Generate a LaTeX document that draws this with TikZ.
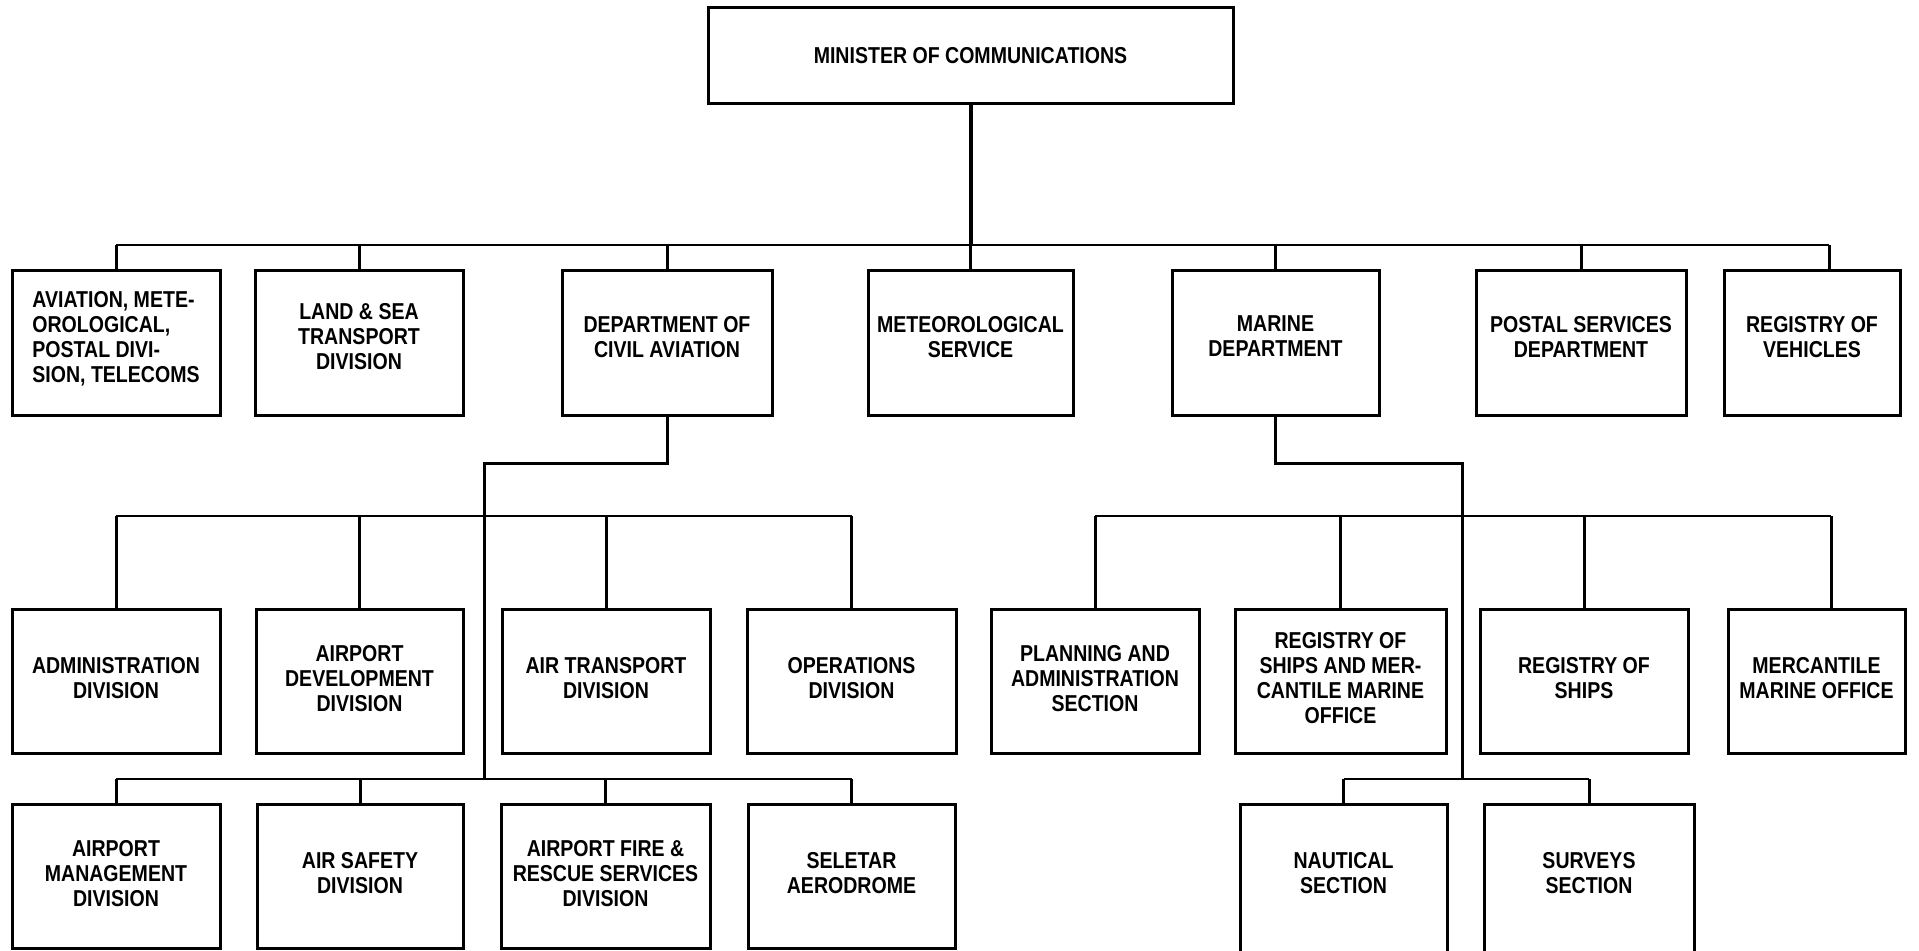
\documentclass[tikz,border=0pt]{standalone}
\usepackage{fontspec}
\setmainfont{Liberation Sans}[FakeStretch=0.85]
\newcommand\orgbox[7][]{%
  \node[box,#1,minimum width={(#5-#3)*0.5pt},minimum height={(#6-#4)*0.5pt}] (#2) at ({(#3+#5)/2},{(#4+#6)/2}) {#7};}
\begin{document}
\begin{tikzpicture}[x=0.5pt,y=-0.5pt,
  box/.style={draw, line width=1.5pt, inner sep=0pt, align=center,
    font=\fontsize{11.5}{12.5}\selectfont\bfseries, text depth=3pt},
  rowone/.style={text depth=6pt},
  link/.style={line width=1.5pt},
  busl/.style={line width=1pt}]
\fill[white] (0,0) rectangle (1919,950);
\clip (0,0) rectangle (1919,950);
% top
\orgbox[text depth=0pt]{M}{708}{7}{1233}{103}{MINISTER OF COMMUNICATIONS}
% row 1
\orgbox[rowone,align=left]{A}{12}{270}{220}{415}{AVIATION, METE-\\OROLOGICAL,\\POSTAL DIVI-\\SION, TELECOMS}
\orgbox[rowone]{B}{255}{270}{463}{415}{LAND \& SEA\\TRANSPORT\\DIVISION}
\orgbox[rowone]{C}{562}{270}{772}{415}{DEPARTMENT OF\\CIVIL AVIATION}
\orgbox[rowone]{D}{868}{270}{1073}{415}{METEOROLOGICAL\\SERVICE}
\orgbox[rowone]{E}{1172}{270}{1379}{415}{MARINE\\DEPARTMENT}
\orgbox[rowone]{F}{1476}{270}{1686}{415}{POSTAL SERVICES\\DEPARTMENT}
\orgbox[rowone]{G}{1724}{270}{1900}{415}{REGISTRY OF\\VEHICLES}
% row 2 civil aviation
\orgbox{C1}{12}{609}{220}{753}{ADMINISTRATION\\DIVISION}
\orgbox{C2}{256}{609}{463}{753}{AIRPORT\\DEVELOPMENT\\DIVISION}
\orgbox{C3}{502}{609}{710}{753}{AIR TRANSPORT\\DIVISION}
\orgbox{C4}{747}{609}{956}{753}{OPERATIONS\\DIVISION}
% row 3 civil aviation
\orgbox{C5}{12}{804}{220}{948}{AIRPORT\\MANAGEMENT\\DIVISION}
\orgbox{C6}{257}{804}{463}{948}{AIR SAFETY\\DIVISION}
\orgbox{C7}{501}{804}{710}{948}{AIRPORT FIRE \&\\RESCUE SERVICES\\DIVISION}
\orgbox{C8}{748}{804}{955}{948}{SELETAR\\AERODROME}
% row 2 marine
\orgbox{K1}{991}{609}{1199}{753}{PLANNING AND\\ADMINISTRATION\\SECTION}
\orgbox{K2}{1235}{609}{1446}{753}{REGISTRY OF\\SHIPS AND MER-\\CANTILE MARINE\\OFFICE}
\orgbox{K3}{1480}{609}{1688}{753}{REGISTRY OF\\SHIPS}
\orgbox{K4}{1728}{609}{1905}{753}{MERCANTILE\\MARINE OFFICE}
% row 3 marine
\orgbox[text depth=10pt]{N1}{1240}{804}{1447}{962}{NAUTICAL\\SECTION}
\orgbox[text depth=10pt]{N2}{1484}{804}{1694}{962}{SURVEYS\\SECTION}
% bus levels
\coordinate (b1) at (0,245);
\coordinate (b2) at (0,516);
\coordinate (b3) at (0,779);
\coordinate (ca) at (484,463);
\coordinate (mk) at (1462,463);
% minister to row 1
\draw[line width=2pt] (M.south) -- (M.south |- b1);
\draw[busl] (A.north |- b1) -- ([xshift=8.5pt]G.north |- b1);
\foreach \n in {A,B,C,D,E,F} \draw[link] (\n.north |- b1) -- (\n.north);
\draw[link] ([xshift=8.5pt]G.north |- b1) -- ([xshift=8.5pt]G.north);
% civil aviation
\draw[link] (C.south) -- (C.south |- ca) -- (ca) -- (ca |- b3);
\draw[busl] (C1.north |- b2) -- (C4.north |- b2);
\foreach \n in {C1,C2,C3,C4} \draw[link] (\n.north |- b2) -- (\n.north);
\draw[busl] (C5.north |- b3) -- (C8.north |- b3);
\foreach \n in {C5,C6,C7,C8} \draw[link] (\n.north |- b3) -- (\n.north);
% marine
\draw[link] (E.south) -- (E.south |- mk) -- (mk) -- (mk |- b3);
\draw[busl] (K1.north |- b2) -- ([xshift=7.25pt]K4.north |- b2);
\foreach \n in {K1,K2,K3} \draw[link] (\n.north |- b2) -- (\n.north);
\draw[link] ([xshift=7.25pt]K4.north |- b2) -- ([xshift=7.25pt]K4.north);
\draw[busl] (N1.north |- b3) -- (N2.north |- b3);
\foreach \n in {N1,N2} \draw[link] (\n.north |- b3) -- (\n.north);
\end{tikzpicture}
\end{document}
